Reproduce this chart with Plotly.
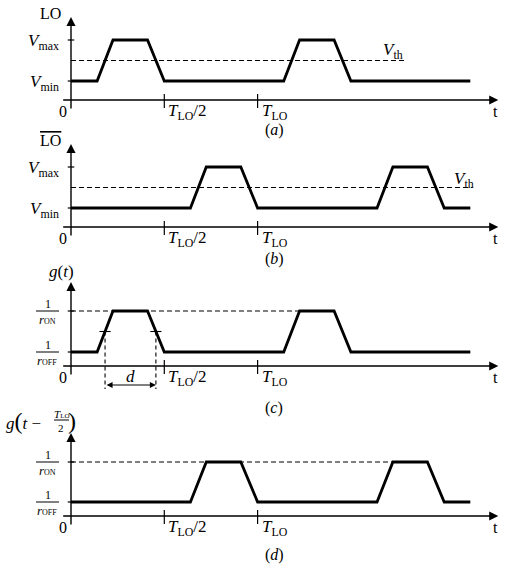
import plotly.graph_objects as go

W, H = 511, 568
X0_PX, UNIT_PX = 71, 93.3   # pixel of t=0 and pixels per T_LO/2

# ---------------- data (time in units of T_LO/2) ----------------
t_lo = [0, 0.28, 0.45, 0.82, 1.0, 2.28, 2.45, 2.82, 3.0, 4.28]
lo_level = [0, 0, 1, 1, 0, 0, 1, 1, 0, 0]
t_lobar = [0, 1.28, 1.45, 1.82, 2.0, 3.28, 3.45, 3.82, 4.0, 4.28]
lobar_level = [0, 0, 1, 1, 0, 0, 1, 1, 0, 0]
t_g = [0, 0.28, 0.45, 0.82, 1.0, 2.28, 2.45, 2.82, 3.0, 4.28]
g_level = [0, 0, 1, 1, 0, 0, 1, 1, 0, 0]
t_gshift = [0, 1.28, 1.45, 1.82, 2.0, 3.28, 3.45, 3.82, 4.0, 4.28]
gshift_level = [0, 0, 1, 1, 0, 0, 1, 1, 0, 0]
vth_level = 0.5
dash_end = [3.6, 4.3, 2.45, 3.45]        # end of dashed reference line per panel
dash_level = [vth_level, vth_level, 1, 1]
d_marks = [0.365, 0.91]
xtick_vals = [1, 2]
xtick_labels = ["<i>T</i><span style='font-size:11px'>LO</span>/2", "<i>T</i><span style='font-size:11px'>LO</span>"]
panel_labels = ["(<i>a</i>)", "(<i>b</i>)", "(<i>c</i>)", "(<i>d</i>)"]

series = [(t_lo, lo_level), (t_lobar, lobar_level), (t_g, g_level), (t_gshift, gshift_level)]

# ---------------- layout geometry (pixels) ----------------
panels = [
    dict(lo=81, hi=40, axis=100, top=17, lab=129),
    dict(lo=208, hi=167, axis=227, top=144, lab=258),
    dict(lo=352, hi=311, axis=366, top=282, lab=407),
    dict(lo=502, hi=462, axis=516, top=433, lab=554),
]
FONT = "Liberation Serif"
X_AX_START, X_AX_END = -0.1, 4.58

def yv(p, px):
    return (p["lo"] - px) / (p["lo"] - p["hi"])

def P(px, py):
    return px / W, 1 - py / H

fig = go.Figure()
shapes, annos = [], []

layout_axes = {}
for i, p in enumerate(panels):
    yname = "y" if i == 0 else f"y{i+1}"
    ykey = "yaxis" if i == 0 else f"yaxis{i+1}"
    ax = dict(range=[yv(p, H), yv(p, 0)], visible=False, domain=[0, 1], fixedrange=True)
    if i > 0:
        ax["overlaying"] = "y"
    layout_axes[ykey] = ax

    tt, lv = series[i]
    # dashed reference
    fig.add_trace(go.Scatter(x=[0, dash_end[i]], y=[dash_level[i]] * 2, mode="lines",
                             line=dict(color="black", width=1.2, dash="5px,3px"),
                             xaxis="x", yaxis=yname, hoverinfo="skip"))
    # waveform
    fig.add_trace(go.Scatter(x=tt, y=lv, mode="lines",
                             line=dict(color="black", width=2.8),
                             xaxis="x", yaxis=yname, hoverinfo="skip"))
    ay = yv(p, p["axis"])
    # x axis arrow
    annos.append(dict(x=X_AX_END, y=ay, ax=X_AX_START, ay=ay, xref="x", yref=yname,
                      axref="x", ayref=yname, showarrow=True, arrowhead=2, arrowsize=1.3,
                      arrowwidth=1.4, arrowcolor="black", text="", standoff=0))
    # y axis arrow
    annos.append(dict(x=0, y=yv(p, p["top"]), ax=0, ay=yv(p, p["axis"] + 10), xref="x", yref=yname,
                      axref="x", ayref=yname, showarrow=True, arrowhead=2, arrowsize=1.3,
                      arrowwidth=1.4, arrowcolor="black", text="", standoff=0))
    # y ticks
    for lvl in (0, 1):
        shapes.append(dict(type="line", xref="x", yref=yname, x0=-0.035, x1=0.035, y0=lvl, y1=lvl,
                           line=dict(color="black", width=1.2)))
    # x ticks + labels (subscript drawn as a lowered small span)
    for xv, xl in zip(xtick_vals, xtick_labels):
        shapes.append(dict(type="line", xref="x", yref=yname, x0=xv, x1=xv,
                           y0=yv(p, p["axis"] - 6), y1=yv(p, p["axis"] + 8),
                           line=dict(color="black", width=1.2)))
        annos.append(dict(x=xv, y=ay, xref="x", yref=yname,
                          text=xl.replace("<span style='font-size:11px'>", "<sub style='font-size:11px'>").replace("</span>", "</sub>"),
                          showarrow=False,
                          xanchor="left", yanchor="top", xshift=2, yshift=1,
                          font=dict(size=17)))
    # 0 and t
    annos.append(dict(x=0, y=ay, xref="x", yref=yname, text="0", showarrow=False,
                      xanchor="center", yanchor="middle", xshift=-8, yshift=-11, font=dict(size=16)))
    annos.append(dict(x=X_AX_END, y=ay, xref="x", yref=yname, text="t", showarrow=False,
                      xanchor="center", yanchor="middle", xshift=-3, yshift=-11, font=dict(size=16)))
    # panel label
    lx, ly = P(274, p["lab"] + 1)
    annos.append(dict(x=lx, y=ly, xref="paper", yref="paper", text=panel_labels[i], showarrow=False,
                      xanchor="center", yanchor="middle", font=dict(size=16)))

# ---------- y labels, panels a, b ----------
for i in (0, 1):
    p = panels[i]
    yname = "y" if i == 0 else f"y{i+1}"
    annos.append(dict(x=0, y=1, xref="x", yref=yname, text="<i>V</i><sub>max</sub>", showarrow=False,
                      xanchor="right", yanchor="middle", xshift=-10, yshift=-2, font=dict(size=17)))
    annos.append(dict(x=0, y=0, xref="x", yref=yname, text="<i>V</i><sub>min</sub>", showarrow=False,
                      xanchor="right", yanchor="middle", xshift=-10, yshift=-2, font=dict(size=17)))

lx, ly = P(50, 13)
annos.append(dict(x=lx, y=ly, xref="paper", yref="paper", text="LO", showarrow=False,
                  xanchor="center", yanchor="middle", font=dict(size=16)))
lx, ly = P(50, 141)
annos.append(dict(x=lx, y=ly, xref="paper", yref="paper",
                  text="<span style='text-decoration:overline'>LO</span>", showarrow=False,
                  xanchor="center", yanchor="middle", font=dict(size=16)))
for (vx, vy) in [(393, 51), (464, 180)]:
    lx, ly = P(vx, vy)
    annos.append(dict(x=lx, y=ly, xref="paper", yref="paper", text="<i>V</i><sub>th</sub>",
                      showarrow=False, xanchor="center", yanchor="middle", font=dict(size=17)))

# ---------- fraction labels, panels c, d ----------
for i in (2, 3):
    p = panels[i]
    for lvl_px, den in [(p["hi"], "ON"), (p["lo"], "OFF")]:
        x0, y0 = P(36, lvl_px)
        x1, _ = P(59, lvl_px)
        shapes.append(dict(type="line", xref="paper", yref="paper", x0=x0, x1=x1, y0=y0, y1=y0,
                           line=dict(color="black", width=1)))
        nx, ny = P(48, lvl_px - 7)
        annos.append(dict(x=nx, y=ny, xref="paper", yref="paper", text="1", showarrow=False,
                          xanchor="center", yanchor="middle", font=dict(size=12)))
        dx, dy = P(47, lvl_px + 8)
        annos.append(dict(x=dx, y=dy, xref="paper", yref="paper",
                          text=f"<i>r</i><span style='font-size:8px'>{den}</span>", showarrow=False,
                          xanchor="center", yanchor="middle", font=dict(size=13)))

lx, ly = P(61, 271)
annos.append(dict(x=lx, y=ly, xref="paper", yref="paper", text="<i>g</i>(<i>t</i>)", showarrow=False,
                  xanchor="center", yanchor="middle", font=dict(size=17)))

# g(t - T_LO/2)
lx, ly = P(4, 421)
annos.append(dict(x=lx, y=ly, xref="paper", yref="paper",
                  text="<i>g</i><span style='font-size:24px'>(</span><i>t</i> −", showarrow=False,
                  xanchor="left", yanchor="middle", font=dict(size=17)))
lx, ly = P(61, 414)
annos.append(dict(x=lx, y=ly, xref="paper", yref="paper", text="<i>T</i><span style='font-size:7px'>LO</span>",
                  showarrow=False, xanchor="center", yanchor="middle", font=dict(size=11)))
lx, ly = P(61, 428)
annos.append(dict(x=lx, y=ly, xref="paper", yref="paper", text="2",
                  showarrow=False, xanchor="center", yanchor="middle", font=dict(size=11)))
x0, y0 = P(54, 420)
x1, _ = P(69, 420)
shapes.append(dict(type="line", xref="paper", yref="paper", x0=x0, x1=x1, y0=y0, y1=y0,
                   line=dict(color="black", width=1)))
lx, ly = P(72, 421)
annos.append(dict(x=lx, y=ly, xref="paper", yref="paper", text="<span style='font-size:24px'>)</span>",
                  showarrow=False, xanchor="center", yanchor="middle", font=dict(size=17)))

# ---------- d marker in panel c ----------
pc = panels[2]
for xm in d_marks:
    fig.add_trace(go.Scatter(x=[xm, xm], y=[vth_level, yv(pc, 389)], mode="lines",
                             line=dict(color="black", width=1.1, dash="4px,3px"),
                             xaxis="x", yaxis="y3", hoverinfo="skip"))
    shapes.append(dict(type="line", xref="x", yref="y3", x0=xm - 0.06, x1=xm + 0.06,
                       y0=vth_level, y1=vth_level, line=dict(color="black", width=1.1)))
annos.append(dict(x=d_marks[1], y=yv(pc, 385), ax=d_marks[0], ay=yv(pc, 385), xref="x", yref="y3",
                  axref="x", ayref="y3", showarrow=True, arrowhead=2, arrowside="end+start",
                  arrowsize=1, arrowwidth=1.2, arrowcolor="black", text="", standoff=0, startstandoff=0))
lx, ly = P(130, 376)
annos.append(dict(x=lx, y=ly, xref="paper", yref="paper", text="<i>d</i>", showarrow=False,
                  xanchor="center", yanchor="middle", font=dict(size=17)))

fig.update_layout(
    width=W, height=H, autosize=False,
    margin=dict(l=0, r=0, t=0, b=0),
    paper_bgcolor="white", plot_bgcolor="white",
    showlegend=False,
    font=dict(family=FONT, color="black"),
    xaxis=dict(range=[-X0_PX / UNIT_PX, (W - X0_PX) / UNIT_PX], visible=False, domain=[0, 1],
               fixedrange=True),
    shapes=shapes, annotations=annos,
    **layout_axes,
)
fig.write_html("out.html", config={"displayModeBar": False})
